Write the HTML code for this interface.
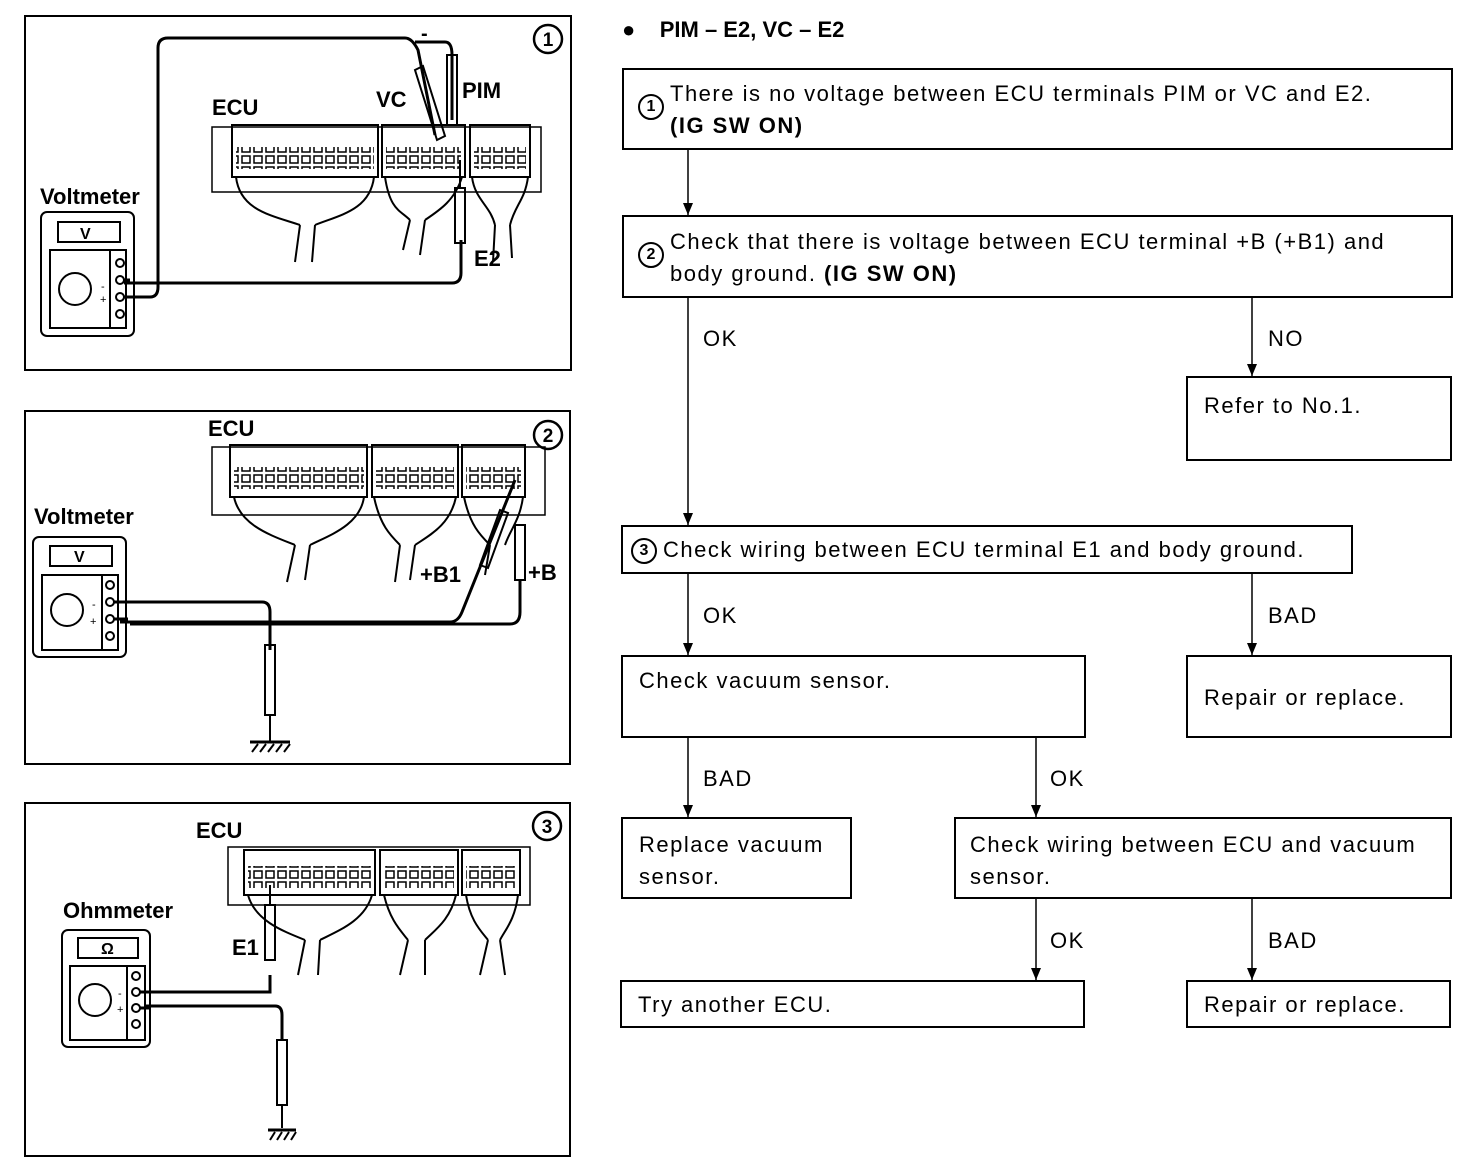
<!DOCTYPE html>
<html><head><meta charset="utf-8"><style>
body{margin:0;background:#fff;width:1472px;height:1174px;overflow:hidden;position:relative;font-family:"Liberation Sans",sans-serif;color:#000}
.b{position:absolute;border:2px solid #000;box-sizing:border-box;font-size:22px;line-height:32px;padding:8px 16px;letter-spacing:1.5px;white-space:nowrap}
.t{position:absolute;font-size:22px;letter-spacing:1.5px}
.c{display:inline-block;width:22px;height:22px;border:2px solid #000;border-radius:50%;font-size:16px;line-height:22px;text-align:center;font-weight:bold;vertical-align:middle;margin-right:6px;letter-spacing:0}
svg{position:absolute;left:0;top:0}
</style></head><body>
<svg width="1472" height="1174" viewBox="0 0 1472 1174">
<defs>
<pattern id="pins" width="12" height="11" patternUnits="userSpaceOnUse"><rect x="2" y="2" width="8" height="7" fill="none" stroke="#000" stroke-width="1.5"/></pattern>
<marker id="ar" markerWidth="12" markerHeight="10" refX="12" refY="5" orient="auto" markerUnits="userSpaceOnUse"><path d="M0,0 L12,5 L0,10 Z" fill="#000"/></marker>
</defs>
<g fill="none" stroke="#000" stroke-width="2">
<rect x="25" y="16" width="546" height="354"/>
<rect x="25" y="411" width="545" height="353"/>
<rect x="25" y="803" width="545" height="353"/>
<!-- panel1 ECU -->
<rect x="212" y="127" width="329" height="65" stroke-width="1.5"/>
<rect x="232" y="125" width="146" height="52"/><rect x="382" y="125" width="83" height="52"/><rect x="470" y="125" width="60" height="52"/>
<rect x="236" y="147" width="138" height="22" fill="url(#pins)" stroke="none"/>
<rect x="386" y="147" width="75" height="22" fill="url(#pins)" stroke="none"/>
<rect x="474" y="147" width="52" height="22" fill="url(#pins)" stroke="none"/>
<path d="M236,177 C240,210 270,215 300,225 M374,177 C370,210 340,215 315,225 M300,225 L295,262 M315,225 L312,262"/>
<path d="M385,177 C390,210 400,210 410,220 M462,177 C455,200 440,210 425,220 M410,220 L403,250 M425,220 L420,255"/>
<path d="M472,177 C475,200 490,205 495,225 M528,177 C525,200 515,205 510,225 M495,225 L493,262 M510,225 L512,258"/>
<!-- panel1 voltmeter -->
<rect x="41" y="212" width="93" height="124" rx="6"/>
<rect x="58" y="222" width="62" height="20"/>
<rect x="50" y="250" width="76" height="78"/><line x1="110" y1="250" x2="110" y2="328"/>
<circle cx="75" cy="289" r="16"/>
<circle cx="120" cy="263" r="4"/><circle cx="120" cy="280" r="4"/><circle cx="120" cy="297" r="4"/><circle cx="120" cy="314" r="4"/>
<path d="M124,297 H150 Q158,297 158,287 V48 Q158,38 168,38 H405 Q412,38 418,50 L435,135" stroke-width="3"/>
<path d="M124,280 H130 M124,283 H452 Q461,283 461,273 V240" stroke-width="3"/>
<path d="M415,42 H445 Q452,42 452,55 V120" stroke-width="3"/>
<rect x="447" y="55" width="10" height="70"/>
<path d="M415,70 l8,-4 l22,70 l-8,4 Z"/>
<rect x="455" y="188" width="10" height="55"/><line x1="460" y1="160" x2="460" y2="188"/>
<!-- panel2 -->
<rect x="212" y="447" width="333" height="68" stroke-width="1.5"/>
<rect x="230" y="445" width="137" height="52"/><rect x="372" y="445" width="86" height="52"/><rect x="462" y="445" width="63" height="52"/>
<rect x="234" y="467" width="130" height="22" fill="url(#pins)" stroke="none"/>
<rect x="376" y="467" width="78" height="22" fill="url(#pins)" stroke="none"/>
<rect x="466" y="467" width="55" height="22" fill="url(#pins)" stroke="none"/>
<path d="M234,497 C240,525 270,535 295,545 M364,497 C360,525 330,535 310,545 M295,545 L287,582 M310,545 L305,580"/>
<path d="M374,497 C380,525 390,535 400,545 M456,497 C450,525 430,535 415,545 M400,545 L395,582 M415,545 L410,580"/>
<path d="M464,497 C470,525 480,535 490,545 M523,497 C520,520 510,530 505,545 M490,545 L485,575"/>
<rect x="33" y="537" width="93" height="120" rx="6"/>
<rect x="50" y="546" width="62" height="20"/>
<rect x="42" y="575" width="76" height="75"/><line x1="102" y1="575" x2="102" y2="650"/>
<circle cx="67" cy="610" r="16"/>
<circle cx="110" cy="585" r="4"/><circle cx="110" cy="602" r="4"/><circle cx="110" cy="619" r="4"/><circle cx="110" cy="636" r="4"/>
<path d="M114,602 H262 Q270,602 270,612 V650" stroke-width="3"/>
<path d="M114,619 H128 M120,622 H450 Q458,622 462,612 L515,480" stroke-width="3"/>
<path d="M130,624 H510 Q520,624 520,612 V580" stroke-width="3"/>
<rect x="265" y="645" width="10" height="70"/><line x1="270" y1="715" x2="270" y2="742"/>
<path d="M250,742 H290" stroke-width="3"/>
<path d="M252,752 l6,-8 M260,752 l6,-8 M268,752 l6,-8 M276,752 l6,-8 M284,752 l6,-8"/>
<rect x="515" y="525" width="10" height="55"/>
<path d="M480,565 l8,3 l20,-55 l-8,-3 Z"/>
<!-- panel3 -->
<rect x="228" y="847" width="302" height="58" stroke-width="1.5"/>
<rect x="244" y="850" width="131" height="45"/><rect x="380" y="850" width="78" height="45"/><rect x="462" y="850" width="58" height="45"/>
<rect x="248" y="866" width="124" height="22" fill="url(#pins)" stroke="none"/>
<rect x="384" y="866" width="70" height="22" fill="url(#pins)" stroke="none"/>
<rect x="466" y="866" width="50" height="22" fill="url(#pins)" stroke="none"/>
<path d="M248,895 C255,920 280,930 305,940 M372,895 C365,920 340,930 320,940 M305,940 L298,975 M320,940 L318,975"/>
<path d="M384,895 C390,920 400,930 408,940 M456,895 C450,920 435,930 425,940 M408,940 L400,975 M425,940 L425,975"/>
<path d="M466,895 C470,920 480,930 488,940 M518,895 C515,920 505,930 500,940 M488,940 L480,975 M500,940 L505,975"/>
<rect x="62" y="930" width="88" height="117" rx="6"/>
<rect x="78" y="938" width="60" height="20"/>
<rect x="70" y="966" width="75" height="74"/><line x1="127" y1="966" x2="127" y2="1040"/>
<circle cx="95" cy="1000" r="16"/>
<circle cx="136" cy="976" r="4"/><circle cx="136" cy="992" r="4"/><circle cx="136" cy="1008" r="4"/><circle cx="136" cy="1024" r="4"/>
<path d="M140,992 H270 V975" stroke-width="3"/>
<path d="M140,1008 H150 M145,1006 H275 Q282,1006 282,1015 V1040" stroke-width="3"/>
<rect x="265" y="905" width="10" height="55"/><line x1="270" y1="885" x2="270" y2="905"/>
<rect x="277" y="1040" width="10" height="65"/><line x1="282" y1="1105" x2="282" y2="1128"/>
<path d="M268,1130 H296" stroke-width="3"/>
<path d="M270,1140 l5,-8 M277,1140 l5,-8 M284,1140 l5,-8 M291,1140 l5,-8"/>
<!-- flow arrows -->
<g stroke-width="1.5" marker-end="url(#ar)">
<line x1="688" y1="149" x2="688" y2="215"/>
<line x1="688" y1="297" x2="688" y2="525"/>
<line x1="1252" y1="297" x2="1252" y2="376"/>
<line x1="688" y1="573" x2="688" y2="655"/>
<line x1="1252" y1="573" x2="1252" y2="655"/>
<line x1="688" y1="737" x2="688" y2="817"/>
<line x1="1036" y1="737" x2="1036" y2="817"/>
<line x1="1036" y1="898" x2="1036" y2="980"/>
<line x1="1252" y1="898" x2="1252" y2="980"/>
</g>
</g>
<g font-family="Liberation Sans" font-size="22" font-weight="bold">
<text x="212" y="115">ECU</text><text x="376" y="107">VC</text><text x="462" y="98">PIM</text><text x="474" y="266">E2</text>
<text x="40" y="204">Voltmeter</text><text x="80" y="239" font-size="16">V</text>
<text x="208" y="436">ECU</text><text x="34" y="524">Voltmeter</text><text x="74" y="562" font-size="16">V</text>
<text x="420" y="582">+B1</text><text x="528" y="580">+B</text>
<text x="196" y="838">ECU</text><text x="63" y="918">Ohmmeter</text><text x="101" y="954" font-size="16">Ω</text><text x="232" y="955">E1</text>
<text x="421" y="40" font-size="20">-</text>
</g>
<g font-family="Liberation Sans" font-size="11"><text x="101" y="290">-</text><text x="100" y="303">+</text><text x="92" y="608">-</text><text x="90" y="625">+</text><text x="118" y="997">-</text><text x="117" y="1013">+</text></g>
<g fill="none" stroke="#000" stroke-width="2.5"><circle cx="548" cy="39" r="14"/><circle cx="548" cy="435" r="14"/><circle cx="547" cy="826" r="14"/></g>
<g font-family="Liberation Sans" font-size="19" font-weight="bold" text-anchor="middle"><text x="548" y="46">1</text><text x="548" y="442">2</text><text x="547" y="833">3</text></g>
</svg>
<div class="t" style="left:622px;top:17px;font-weight:bold;font-size:22px;letter-spacing:0">●&nbsp;&nbsp;&nbsp;&nbsp;PIM – E2, VC – E2</div>
<div class="b" style="left:622px;top:68px;width:831px;height:82px;padding:8px 14px"><span class="c" style="float:left;margin-top:16px">1</span>There is no voltage between ECU terminals PIM or VC and E2.<br><b>(IG SW ON)</b></div>
<div class="b" style="left:622px;top:215px;width:831px;height:83px;padding:9px 14px"><span class="c" style="float:left;margin-top:16px">2</span>Check that there is voltage between ECU terminal +B (+B1) and<br>body ground. <b>(IG SW ON)</b></div>
<div class="b" style="left:1186px;top:376px;width:266px;height:85px;padding:12px 16px">Refer to No.1.</div>
<div class="b" style="left:621px;top:525px;width:732px;height:49px;padding:7px 8px"><span class="c">3</span>Check wiring between ECU terminal E1 and body ground.</div>
<div class="b" style="left:621px;top:655px;width:465px;height:83px;padding:8px 16px">Check vacuum sensor.</div>
<div class="b" style="left:1186px;top:655px;width:266px;height:83px;padding:25px 16px">Repair or replace.</div>
<div class="b" style="left:621px;top:817px;width:231px;height:82px;padding:10px 16px">Replace vacuum<br>sensor.</div>
<div class="b" style="left:954px;top:817px;width:498px;height:82px;padding:10px 14px">Check wiring between ECU and vacuum<br>sensor.</div>
<div class="b" style="left:620px;top:980px;width:465px;height:48px;padding:7px 16px">Try another ECU.</div>
<div class="b" style="left:1186px;top:980px;width:265px;height:48px;padding:7px 16px">Repair or replace.</div>
<div class="t" style="left:703px;top:326px">OK</div>
<div class="t" style="left:1268px;top:326px">NO</div>
<div class="t" style="left:703px;top:603px">OK</div>
<div class="t" style="left:1268px;top:603px">BAD</div>
<div class="t" style="left:703px;top:766px">BAD</div>
<div class="t" style="left:1050px;top:766px">OK</div>
<div class="t" style="left:1050px;top:928px">OK</div>
<div class="t" style="left:1268px;top:928px">BAD</div>
</body></html>
